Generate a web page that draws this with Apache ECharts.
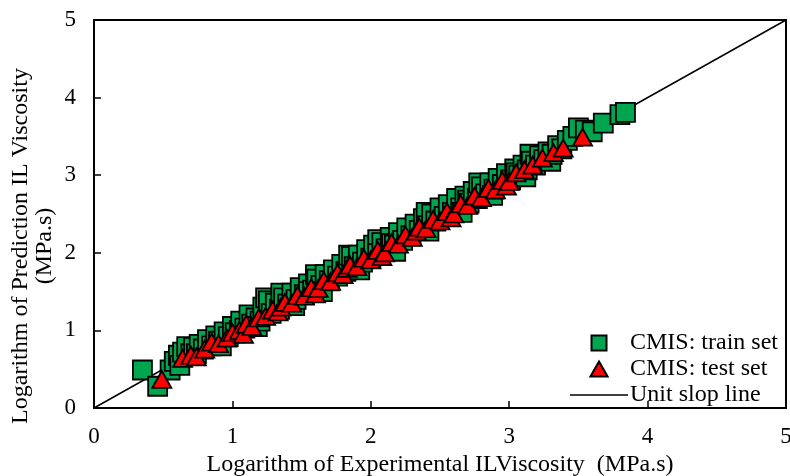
<!DOCTYPE html>
<html>
<head>
<meta charset="utf-8">
<script src="https://cdn.jsdelivr.net/npm/echarts@6/dist/echarts.min.js"></script>
<style>html,body{margin:0;padding:0;background:#fff}#c{width:790px;height:476px}</style>
</head>
<body>
<div id="c"></div>
<script>
var axisTicks = [0, 1, 2, 3, 4, 5];
var trainSet = [
[0.35,0.49],[0.46,0.28],[0.55,0.49],[0.58,0.60],[0.61,0.68],[0.62,0.55],[0.64,0.72],[0.67,0.79],[0.70,0.70],[0.72,0.78],[0.74,0.70],
[0.76,0.82],[0.79,0.76],[0.82,0.88],[0.85,0.80],[0.88,0.93],[0.90,0.86],[0.92,0.80],[0.94,0.98],[0.97,0.92],[1.00,1.05],[1.02,0.97],
[1.05,1.00],[1.06,1.12],[1.09,1.03],[1.12,1.20],[1.14,1.08],[1.17,1.16],[1.18,1.05],[1.20,1.12],[1.22,1.30],[1.24,1.42],[1.26,1.38],
[1.28,1.22],[1.31,1.35],[1.34,1.27],[1.35,1.48],[1.37,1.42],[1.40,1.34],[1.43,1.48],[1.45,1.32],[1.46,1.40],[1.49,1.55],[1.52,1.46],[1.55,1.60],
[1.55,1.50],[1.58,1.52],[1.60,1.72],[1.61,1.66],[1.64,1.58],[1.65,1.50],[1.67,1.72],[1.70,1.64],[1.73,1.78],[1.76,1.70],[1.79,1.85],[1.82,1.76],
[1.84,1.97],[1.86,1.95],[1.88,1.82],[1.91,1.97],[1.92,1.78],[1.94,1.88],[1.97,2.04],[2.00,1.93],[2.02,2.10],[2.05,2.17],[2.05,1.99],[2.08,2.13],
[2.11,2.05],[2.14,2.20],[2.15,2.12],[2.17,2.10],[2.18,2.02],[2.20,2.26],[2.23,2.16],[2.26,2.32],[2.29,2.22],[2.32,2.37],[2.35,2.29],
[2.38,2.44],[2.40,2.52],[2.41,2.35],[2.42,2.28],[2.44,2.50],[2.47,2.41],[2.50,2.58],[2.53,2.47],[2.56,2.62],[2.59,2.52],[2.62,2.70],[2.65,2.58],
[2.66,2.52],[2.68,2.73],[2.70,2.68],[2.71,2.64],[2.74,2.79],[2.77,2.70],[2.78,2.90],[2.80,2.85],[2.83,2.76],[2.86,2.90],[2.88,2.74],[2.89,2.82],[2.92,2.96],
[2.95,2.88],[2.98,3.02],[3.01,2.94],[3.04,3.08],[3.05,3.03],[3.07,3.00],[3.10,3.13],[3.12,2.98],[3.13,3.07],[3.15,3.27],[3.16,3.18],[3.19,3.13],
[3.22,3.25],[3.25,3.20],[3.28,3.30],[3.30,3.18],[3.31,3.27],[3.35,3.38],[3.38,3.34],[3.42,3.45],[3.46,3.50],[3.50,3.61],[3.55,3.58],
[3.60,3.56],[3.68,3.67],[3.80,3.78],[3.84,3.81]
];
var testSet = [
[0.49,0.37],[0.64,0.64],[0.70,0.68],[0.74,0.66],[0.80,0.76],[0.85,0.85],[0.90,0.83],[0.96,0.90],[1.00,0.97],[1.05,1.00],
[1.08,0.95],[1.10,1.08],[1.14,1.05],[1.19,1.16],[1.24,1.18],[1.29,1.26],[1.33,1.24],[1.35,1.30],[1.38,1.36],[1.43,1.35],[1.47,1.45],[1.52,1.44],
[1.57,1.55],[1.60,1.47],[1.62,1.54],[1.66,1.64],[1.71,1.63],[1.76,1.74],[1.80,1.72],[1.83,1.80],[1.85,1.84],[1.90,1.82],[1.95,1.93],[2.00,1.91],
[2.05,2.03],[2.08,1.95],[2.10,2.00],[2.15,2.13],[2.20,2.11],[2.25,2.23],[2.30,2.20],[2.33,2.28],[2.35,2.33],[2.40,2.31],[2.45,2.43],[2.50,2.41],
[2.55,2.53],[2.58,2.45],[2.60,2.50],[2.65,2.63],[2.70,2.61],[2.75,2.73],[2.80,2.71],[2.85,2.83],[2.90,2.81],[2.95,2.93],[2.98,2.86],[3.00,2.92],
[3.05,3.03],[3.11,3.07],[3.17,3.13],[3.24,3.22],[3.32,3.29],[3.39,3.35],[3.53,3.49]
];
var unitLine = [[0,0],[5,5]];
var names = ['CMIS: train set', 'CMIS: test set', 'Unit slop line'];

var font = 'Liberation Serif, Times New Roman, serif';
var chart = echarts.init(document.getElementById('c'), null, {renderer: 'canvas'});
var axisCommon = {
  type: 'value', min: axisTicks[0], max: axisTicks[axisTicks.length - 1], interval: 1,
  splitLine: {show: false},
  axisLine: {show: true, lineStyle: {color: '#000', width: 2}},
  axisTick: {show: true, inside: true, length: 7, lineStyle: {color: '#000', width: 1.5}},
  axisLabel: {color: '#000', fontFamily: font, fontSize: 23},
  nameTextStyle: {color: '#000', fontFamily: font, fontSize: 24},
  nameLocation: 'middle'
};
chart.setOption({
  animation: false,
  backgroundColor: '#fff',
  grid: {left: 94, right: 4, top: 20, bottom: 68, show: true, borderColor: '#000', borderWidth: 2,
         containLabel: false, outerBoundsMode: 'none'},
  xAxis: Object.assign({}, axisCommon, {
    name: 'Logarithm of Experimental ILViscosity  (MPa.s)', nameGap: 45,
    axisLabel: Object.assign({}, axisCommon.axisLabel, {margin: 17})
  }),
  yAxis: Object.assign({}, axisCommon, {
    name: 'Logarithm of Prediction IL Viscosity\n(MPa.s)', nameGap: 37, nameMoveOverlap: false,
    nameTextStyle: Object.assign({}, axisCommon.nameTextStyle, {lineHeight: 24, padding: [0, 64, 0, 0]}),
    axisLabel: Object.assign({}, axisCommon.axisLabel, {margin: 18})
  }),
  legend: {
    orient: 'vertical', right: 7, bottom: 64, itemWidth: 58, itemHeight: 15, itemGap: 2,
    symbolKeepAspect: true,
    textStyle: {color: '#000', fontFamily: font, fontSize: 24, lineHeight: 24, padding: [0, 0, 0, -3]},
    data: [
      {name: names[0], icon: 'path://M0,0h10v10h-10z'},
      {name: names[1], icon: 'path://M6,0L12,10.5L0,10.5z'},
      {name: names[2], icon: 'path://M0,0h58v1.6h-58z'}
    ]
  },
  series: [
    {name: names[2], type: 'line', data: unitLine, symbol: 'none', showSymbol: false,
     lineStyle: {color: '#000', width: 1.5}, itemStyle: {color: '#000'}, z: 1},
    {name: names[0], type: 'scatter', data: trainSet, symbol: 'rect', symbolSize: 19,
     itemStyle: {color: '#00A64F', borderColor: '#000', borderWidth: 1.8, opacity: 1}, z: 2},
    {name: names[1], type: 'scatter', data: testSet, symbol: 'triangle', symbolSize: [19, 17],
     itemStyle: {color: '#FF0000', borderColor: '#000', borderWidth: 1.8, opacity: 1}, z: 3}
  ]
});
</script>
</body>
</html>
